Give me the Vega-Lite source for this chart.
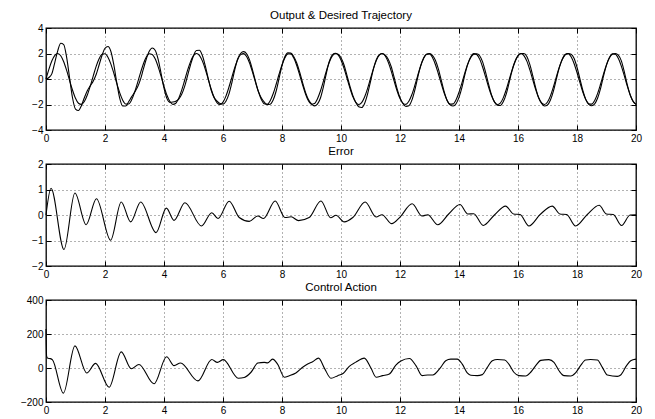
{
"$schema": "https://vega.github.io/schema/vega-lite/v6.json",
"padding": {"left": 19, "top": 8, "right": 5, "bottom": 5},
"datasets": {
"top": [
{"t":0,"d":0,"o":0},{"t":0.1,"d":0.78,"o":0.12},{"t":0.2,"d":1.43,"o":0.42},{"t":0.3,"d":1.86,"o":1.31},{"t":0.4,"d":2.0,"o":2.23},{"t":0.5,"d":1.82,"o":2.8},{"t":0.6,"d":1.35,"o":2.7},{"t":0.7,"d":0.67,"o":1.69},{"t":0.8,"d":-0.12,"o":0.08},{"t":0.9,"d":-0.88,"o":-1.49},
{"t":1.0,"d":-1.51,"o":-2.36},{"t":1.1,"d":-1.9,"o":-2.47},{"t":1.2,"d":-1.99,"o":-2.09},{"t":1.3,"d":-1.77,"o":-1.47},{"t":1.4,"d":-1.26,"o":-0.92},{"t":1.5,"d":-0.56,"o":-0.54},{"t":1.6,"d":0.23,"o":-0.17},{"t":1.7,"d":0.99,"o":0.35},{"t":1.8,"d":1.59,"o":1.1},{"t":1.9,"d":1.94,"o":1.86},
{"t":2.0,"d":1.98,"o":2.41},{"t":2.1,"d":1.71,"o":2.55},{"t":2.2,"d":1.17,"o":2.16},{"t":2.3,"d":0.45,"o":1.1},{"t":2.4,"d":-0.35,"o":-0.3},{"t":2.5,"d":-1.09,"o":-1.52},{"t":2.6,"d":-1.66,"o":-2.12},{"t":2.7,"d":-1.96,"o":-2.12},{"t":2.8,"d":-1.96,"o":-1.79},{"t":2.9,"d":-1.65,"o":-1.4},
{"t":3.0,"d":-1.07,"o":-1.05},{"t":3.1,"d":-0.33,"o":-0.65},{"t":3.2,"d":0.46,"o":-0.05},{"t":3.3,"d":1.18,"o":0.77},{"t":3.4,"d":1.72,"o":1.57},{"t":3.5,"d":1.98,"o":2.17},{"t":3.6,"d":1.93,"o":2.43},{"t":3.7,"d":1.58,"o":2.26},{"t":3.8,"d":0.97,"o":1.56},{"t":3.9,"d":0.22,"o":0.45},
{"t":4.0,"d":-0.58,"o":-0.72},{"t":4.1,"d":-1.28,"o":-1.54},{"t":4.2,"d":-1.77,"o":-1.83},{"t":4.3,"d":-1.99,"o":-1.81},{"t":4.4,"d":-1.9,"o":-1.74},{"t":4.5,"d":-1.5,"o":-1.57},{"t":4.6,"d":-0.87,"o":-1.2},{"t":4.7,"d":-0.1,"o":-0.58},{"t":4.8,"d":0.69,"o":0.27},{"t":4.9,"d":1.36,"o":1.12},
{"t":5.0,"d":1.83,"o":1.83},{"t":5.1,"d":2.0,"o":2.23},{"t":5.2,"d":1.86,"o":2.25},{"t":5.3,"d":1.42,"o":1.84},{"t":5.4,"d":0.76,"o":1.03},{"t":5.5,"d":-0.02,"o":0.03},{"t":5.6,"d":-0.8,"o":-0.88},{"t":5.7,"d":-1.45,"o":-1.46},{"t":5.8,"d":-1.87,"o":-1.74},{"t":5.9,"d":-2.0,"o":-1.92},
{"t":6.0,"d":-1.81,"o":-1.96},{"t":6.1,"d":-1.34,"o":-1.74},{"t":6.2,"d":-0.65,"o":-1.19},{"t":6.3,"d":0.13,"o":-0.3},{"t":6.4,"d":0.9,"o":0.74},{"t":6.5,"d":1.53,"o":1.59},{"t":6.6,"d":1.91,"o":2.02},{"t":6.7,"d":1.99,"o":2.15},{"t":6.8,"d":1.76,"o":1.98},{"t":6.9,"d":1.25,"o":1.5},
{"t":7.0,"d":0.54,"o":0.72},{"t":7.1,"d":-0.25,"o":-0.17},{"t":7.2,"d":-1.0,"o":-0.97},{"t":7.3,"d":-1.6,"o":-1.49},{"t":7.4,"d":-1.94,"o":-1.81},{"t":7.5,"d":-1.98,"o":-2.01},{"t":7.6,"d":-1.7,"o":-1.98},{"t":7.7,"d":-1.16,"o":-1.65},{"t":7.8,"d":-0.43,"o":-0.96},{"t":7.9,"d":0.37,"o":0.04},
{"t":8.0,"d":1.1,"o":1.06},{"t":8.1,"d":1.67,"o":1.77},{"t":8.2,"d":1.97,"o":2.06},{"t":8.3,"d":1.96,"o":2.03},{"t":8.4,"d":1.64,"o":1.75},{"t":8.5,"d":1.06,"o":1.26},{"t":8.6,"d":0.31,"o":0.53},{"t":8.7,"d":-0.48,"o":-0.3},{"t":8.8,"d":-1.2,"o":-1.07},{"t":8.9,"d":-1.73,"o":-1.63},
{"t":9.0,"d":-1.98,"o":-1.95},{"t":9.1,"d":-1.93,"o":-2.11},{"t":9.2,"d":-1.56,"o":-1.97},{"t":9.3,"d":-0.96,"o":-1.51},{"t":9.4,"d":-0.2,"o":-0.65},{"t":9.5,"d":0.59,"o":0.41},{"t":9.6,"d":1.29,"o":1.36},{"t":9.7,"d":1.78,"o":1.87},{"t":9.8,"d":2.0,"o":2.02},{"t":9.9,"d":1.89,"o":1.94},
{"t":10.0,"d":1.49,"o":1.67},{"t":10.1,"d":0.85,"o":1.12},{"t":10.2,"d":0.08,"o":0.31},{"t":10.3,"d":-0.7,"o":-0.55},{"t":10.4,"d":-1.38,"o":-1.28},{"t":10.5,"d":-1.83,"o":-1.82},{"t":10.6,"d":-2.0,"o":-2.18},{"t":10.7,"d":-1.85,"o":-2.24},{"t":10.8,"d":-1.41,"o":-1.92},{"t":10.9,"d":-0.75,"o":-1.19},
{"t":11.0,"d":0.04,"o":-0.2},{"t":11.1,"d":0.81,"o":0.8},{"t":11.2,"d":1.46,"o":1.54},{"t":11.3,"d":1.88,"o":1.91},{"t":11.4,"d":2.0,"o":1.99},{"t":11.5,"d":1.8,"o":1.88},{"t":11.6,"d":1.32,"o":1.55},{"t":11.7,"d":0.64,"o":0.98},{"t":11.8,"d":-0.15,"o":0.14},{"t":11.9,"d":-0.92,"o":-0.76},
{"t":12.0,"d":-1.54,"o":-1.46},{"t":12.1,"d":-1.91,"o":-1.91},{"t":12.2,"d":-1.99,"o":-2.16},{"t":12.3,"d":-1.75,"o":-2.1},{"t":12.4,"d":-1.24,"o":-1.68},{"t":12.5,"d":-0.53,"o":-0.89},{"t":12.6,"d":0.27,"o":0.11},{"t":12.7,"d":1.02,"o":1.03},{"t":12.8,"d":1.61,"o":1.64},{"t":12.9,"d":1.94,"o":1.94},
{"t":13.0,"d":1.97,"o":1.99},{"t":13.1,"d":1.69,"o":1.86},{"t":13.2,"d":1.14,"o":1.47},{"t":13.3,"d":0.41,"o":0.79},{"t":13.4,"d":-0.38,"o":-0.1},{"t":13.5,"d":-1.12,"o":-1.01},{"t":13.6,"d":-1.68,"o":-1.7},{"t":13.7,"d":-1.97,"o":-2.03},{"t":13.8,"d":-1.95,"o":-2.12},{"t":13.9,"d":-1.63,"o":-1.94},
{"t":14.0,"d":-1.04,"o":-1.44},{"t":14.1,"d":-0.3,"o":-0.65},{"t":14.2,"d":0.5,"o":0.35},{"t":14.3,"d":1.21,"o":1.17},{"t":14.4,"d":1.74,"o":1.69},{"t":14.5,"d":1.99,"o":1.94},{"t":14.6,"d":1.92,"o":1.98},{"t":14.7,"d":1.56,"o":1.82},{"t":14.8,"d":0.94,"o":1.34},{"t":14.9,"d":0.18,"o":0.54},
{"t":15.0,"d":-0.61,"o":-0.39},{"t":15.1,"d":-1.3,"o":-1.23},{"t":15.2,"d":-1.79,"o":-1.79},{"t":15.3,"d":-2.0,"o":-2.06},{"t":15.4,"d":-1.89,"o":-2.08},{"t":15.5,"d":-1.48,"o":-1.79},{"t":15.6,"d":-0.84,"o":-1.19},{"t":15.7,"d":-0.06,"o":-0.28},{"t":15.8,"d":0.72,"o":0.65},{"t":15.9,"d":1.39,"o":1.35},
{"t":16.0,"d":1.84,"o":1.81},{"t":16.1,"d":2.0,"o":1.99},{"t":16.2,"d":1.84,"o":2.0},{"t":16.3,"d":1.4,"o":1.77},{"t":16.4,"d":0.73,"o":1.15},{"t":16.5,"d":-0.05,"o":0.26},{"t":16.6,"d":-0.83,"o":-0.69},{"t":16.7,"d":-1.47,"o":-1.47},{"t":16.8,"d":-1.88,"o":-1.91},{"t":16.9,"d":-2.0,"o":-2.12},
{"t":17.0,"d":-1.8,"o":-2.04},{"t":17.1,"d":-1.32,"o":-1.65},{"t":17.2,"d":-0.62,"o":-0.95},{"t":17.3,"d":0.17,"o":-0.01},{"t":17.4,"d":0.93,"o":0.89},{"t":17.5,"d":1.55,"o":1.52},{"t":17.6,"d":1.92,"o":1.9},{"t":17.7,"d":1.99,"o":2.0},{"t":17.8,"d":1.74,"o":1.94},{"t":17.9,"d":1.22,"o":1.62},
{"t":18.0,"d":0.51,"o":0.92},{"t":18.1,"d":-0.29,"o":0.0},{"t":18.2,"d":-1.04,"o":-0.92},{"t":18.3,"d":-1.62,"o":-1.62},{"t":18.4,"d":-1.95,"o":-1.99},{"t":18.5,"d":-1.97,"o":-2.1},{"t":18.6,"d":-1.68,"o":-1.95},{"t":18.7,"d":-1.13,"o":-1.49},{"t":18.8,"d":-0.39,"o":-0.73},{"t":18.9,"d":0.4,"o":0.24},
{"t":19.0,"d":1.13,"o":1.09},{"t":19.1,"d":1.69,"o":1.66},{"t":19.2,"d":1.97,"o":1.95},{"t":19.3,"d":1.95,"o":2.0},{"t":19.4,"d":1.62,"o":1.88},{"t":19.5,"d":1.03,"o":1.44},{"t":19.6,"d":0.28,"o":0.6},{"t":19.7,"d":-0.52,"o":-0.41},{"t":19.8,"d":-1.23,"o":-1.23},{"t":19.9,"d":-1.75,"o":-1.75},
{"t":20.0,"d":-1.99,"o":-1.99}
],
"err": [
{"t":0,"e":0},{"t":0.17,"e":1.05},{"t":0.61,"e":-1.35},{"t":0.98,"e":0.86},{"t":1.36,"e":-0.38},{"t":1.71,"e":0.64},{"t":2.19,"e":-0.99},{"t":2.55,"e":0.51},{"t":2.87,"e":-0.27},{"t":3.21,"e":0.51},{"t":3.73,"e":-0.69},{"t":4.08,"e":0.27},{"t":4.34,"e":-0.21},{"t":4.71,"e":0.48},{"t":5.27,"e":-0.43},{"t":5.62,"e":0.09},{"t":5.83,"e":-0.14},{"t":6.21,"e":0.54},{"t":6.55,"e":-0.1},{"t":6.89,"e":-0.25},{"t":7.18,"e":-0.04},{"t":7.37,"e":-0.14},{"t":7.77,"e":0.55},{"t":8.1,"e":-0.1},{"t":8.31,"e":-0.07},{"t":8.56,"e":-0.22},{"t":8.92,"e":-0.1},{"t":9.32,"e":0.55},{"t":9.65,"e":-0.11},{"t":9.83,"e":-0.01},{"t":10.11,"e":-0.27},{"t":10.4,"e":-0.1},{"t":10.82,"e":0.51},{"t":11.19,"e":-0.08},{"t":11.39,"e":0.01},{"t":11.72,"e":-0.34},{"t":12.0,"e":-0.08},{"t":12.41,"e":0.44},{"t":12.75,"e":-0.04},{"t":12.94,"e":0.01},{"t":13.28,"e":-0.38},{"t":13.65,"e":0.04},{"t":14.03,"e":0.41},{"t":14.3,"e":0.04},{"t":14.5,"e":0.05},{"t":14.82,"e":-0.41},{"t":15.2,"e":0.0},{"t":15.58,"e":0.35},{"t":15.85,"e":0.04},{"t":16.07,"e":0.02},{"t":16.37,"e":-0.43},{"t":16.75,"e":0.02},{"t":17.16,"e":0.35},{"t":17.42,"e":0.04},{"t":17.65,"e":0.02},{"t":17.95,"e":-0.43},{"t":18.35,"e":0.02},{"t":18.75,"e":0.38},{"t":19.0,"e":0.04},{"t":19.23,"e":0.02},{"t":19.51,"e":-0.41},{"t":19.8,"e":0.0},{"t":20.0,"e":0.01}
],
"ctl": [
{"t":0,"u":230},{"t":0.02,"u":70},{"t":0.06,"u":57},{"t":0.15,"u":55},{"t":0.22,"u":48},{"t":0.59,"u":-148},{"t":0.98,"u":130},{"t":1.38,"u":-29},{"t":1.68,"u":27},{"t":2.14,"u":-113},{"t":2.55,"u":95},{"t":2.89,"u":-4},{"t":3.15,"u":21},{"t":3.66,"u":-93},{"t":4.09,"u":66},{"t":4.34,"u":14},{"t":4.56,"u":29},{"t":5.15,"u":-76},{"t":5.62,"u":50},{"t":5.81,"u":33},{"t":6.01,"u":49},{"t":6.52,"u":-60},{"t":6.72,"u":-56},{"t":6.95,"u":-25},{"t":7.18,"u":29},{"t":7.4,"u":33},{"t":7.51,"u":30},{"t":7.68,"u":52},{"t":7.85,"u":23},{"t":8.08,"u":-54},{"t":8.25,"u":-45},{"t":8.47,"u":-29},{"t":8.7,"u":4},{"t":8.87,"u":23},{"t":9.04,"u":37},{"t":9.24,"u":58},{"t":9.44,"u":-2},{"t":9.66,"u":-60},{"t":9.89,"u":-45},{"t":10.08,"u":-31},{"t":10.28,"u":10},{"t":10.49,"u":33},{"t":10.79,"u":58},{"t":11.02,"u":-2},{"t":11.19,"u":-54},{"t":11.41,"u":-45},{"t":11.64,"u":-35},{"t":11.86,"u":17},{"t":12.03,"u":41},{"t":12.32,"u":56},{"t":12.54,"u":14},{"t":12.75,"u":-45},{"t":12.94,"u":-41},{"t":13.11,"u":-41},{"t":13.38,"u":4},{"t":13.55,"u":43},{"t":13.72,"u":52},{"t":13.94,"u":52},{"t":14.11,"u":23},{"t":14.28,"u":-29},{"t":14.4,"u":-43},{"t":14.62,"u":-45},{"t":14.79,"u":-39},{"t":14.96,"u":4},{"t":15.13,"u":43},{"t":15.3,"u":50},{"t":15.55,"u":47},{"t":15.69,"u":23},{"t":15.86,"u":-25},{"t":16.03,"u":-45},{"t":16.26,"u":-47},{"t":16.43,"u":-25},{"t":16.6,"u":14},{"t":16.77,"u":45},{"t":17.05,"u":49},{"t":17.22,"u":33},{"t":17.39,"u":-16},{"t":17.56,"u":-45},{"t":17.79,"u":-47},{"t":17.95,"u":-29},{"t":18.12,"u":14},{"t":18.29,"u":47},{"t":18.46,"u":50},{"t":18.69,"u":47},{"t":18.86,"u":4},{"t":19.03,"u":-41},{"t":19.37,"u":-49},{"t":19.48,"u":-41},{"t":19.68,"u":14},{"t":19.82,"u":43},{"t":20.0,"u":52}
]
},
"vconcat": [
{
"title": "Output & Desired Trajectory",
"width": 590, "height": 102,
"data": {"name": "top"},
"resolve": {"axis": {"x": "independent", "y": "independent"}},
"layer": [
{"mark": {"type": "line", "color": "black", "strokeWidth": 1.1, "interpolate": "monotone"},
 "encoding": {
  "x": {"field": "t", "type": "quantitative", "title": null, "scale": {"domain": [0, 20], "nice": false}, "axis": {"values": [0,2,4,6,8,10,12,14,16,18,20]}},
  "y": {"field": "d", "type": "quantitative", "title": null, "scale": {"domain": [-4, 4], "nice": false}, "axis": {"values": [-4,-2,0,2,4]}}
 }},
{"mark": {"type": "line", "color": "black", "strokeWidth": 1.1, "interpolate": "monotone"},
 "encoding": {
  "x": {"field": "t", "type": "quantitative", "title": null, "axis": {"orient": "top", "values": [0,2,4,6,8,10,12,14,16,18,20], "labels": false, "grid": false}},
  "y": {"field": "o", "type": "quantitative", "title": null, "axis": {"orient": "right", "values": [-4,-2,0,2,4], "labels": false, "grid": false}}
 }}
]
},
{
"title": "Error",
"width": 590, "height": 102,
"data": {"name": "err"},
"resolve": {"axis": {"x": "independent", "y": "independent"}},
"layer": [
{"mark": {"type": "line", "color": "black", "strokeWidth": 1.1, "interpolate": "monotone"},
 "encoding": {
  "x": {"field": "t", "type": "quantitative", "title": null, "scale": {"domain": [0, 20], "nice": false}, "axis": {"values": [0,2,4,6,8,10,12,14,16,18,20]}},
  "y": {"field": "e", "type": "quantitative", "title": null, "scale": {"domain": [-2, 2], "nice": false}, "axis": {"values": [-2,-1,0,1,2]}}
 }},
{"mark": {"type": "point", "opacity": 0},
 "encoding": {
  "x": {"field": "t", "type": "quantitative", "title": null, "axis": {"orient": "top", "values": [0,2,4,6,8,10,12,14,16,18,20], "labels": false, "grid": false}},
  "y": {"field": "e", "type": "quantitative", "title": null, "axis": {"orient": "right", "values": [-2,-1,0,1,2], "labels": false, "grid": false}}
 }}
]
},
{
"title": "Control Action",
"width": 590, "height": 102,
"data": {"name": "ctl"},
"resolve": {"axis": {"x": "independent", "y": "independent"}},
"layer": [
{"mark": {"type": "line", "color": "black", "strokeWidth": 1.1, "interpolate": "monotone"},
 "encoding": {
  "x": {"field": "t", "type": "quantitative", "title": null, "scale": {"domain": [0, 20], "nice": false}, "axis": {"values": [0,2,4,6,8,10,12,14,16,18,20]}},
  "y": {"field": "u", "type": "quantitative", "title": null, "scale": {"domain": [-200, 400], "nice": false}, "axis": {"values": [-200,0,200,400]}}
 }},
{"mark": {"type": "point", "opacity": 0},
 "encoding": {
  "x": {"field": "t", "type": "quantitative", "title": null, "axis": {"orient": "top", "values": [0,2,4,6,8,10,12,14,16,18,20], "labels": false, "grid": false}},
  "y": {"field": "u", "type": "quantitative", "title": null, "axis": {"orient": "right", "values": [-200,0,200,400], "labels": false, "grid": false}}
 }}
]
}
],
"spacing": 34,
"bounds": "flush",
"config": {
  "font": "Liberation Sans",
  "background": "white",
  "view": {"stroke": "black", "strokeWidth": 1.3},
  "axis": {"labelFont": "Liberation Sans", "labelFontSize": 10, "labelColor": "black", "domain": false, "ticks": true, "tickSize": -5, "tickColor": "black", "labelPadding": 8, "grid": true, "gridColor": "#222", "gridDash": [1, 3], "gridOpacity": 0.7, "labelFlush": false, "labelOverlap": false},
  "title": {"font": "Liberation Sans", "fontSize": 11.5, "fontWeight": "normal", "color": "black", "anchor": "middle", "offset": 2}
}
}
